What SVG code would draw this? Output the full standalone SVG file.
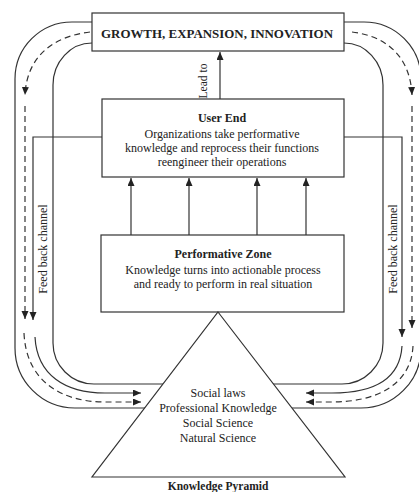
<svg xmlns="http://www.w3.org/2000/svg" width="419" height="492" viewBox="0 0 419 492">
<style>
text{font-family:"Liberation Serif","Times New Roman",serif;fill:#222;text-anchor:middle}
.b{font-weight:bold}
.t{font-size:12px}
.s{font-size:11.5px}
.box{fill:#fff;stroke:#333;stroke-width:1.2}
.ln{fill:none;stroke:#333;stroke-width:1.2}
.ds{fill:none;stroke:#333;stroke-width:1.2;stroke-dasharray:6 4}
</style>
<defs>
<marker id="ah" markerUnits="userSpaceOnUse" markerWidth="9" markerHeight="8" refX="8" refY="3.5" orient="auto">
<path d="M0,0 L8,3.5 L0,7 z" fill="#222"/>
</marker>
</defs>
<rect width="419" height="492" fill="#fff"/>
<g id="connectors">
<!-- left side -->
<path class="ln" d="M92,22 H72 A57,57 0 0 0 15,79 V348 A60,60 0 0 0 75,408 H146"/>
<path class="ln" d="M92,43 A39,42 0 0 0 53,85 V343 A41,41 0 0 0 94,384 H163"/>
<path class="ds" d="M90,32 C55,36 27,55 25,95" marker-end="url(#ah)"/>
<path class="ds" d="M25,106 V319" marker-end="url(#ah)"/>
<path class="ln" d="M102,137 H33 V320" marker-end="url(#ah)"/>
<path class="ds" d="M24,333 C26,380 60,402 105,402 H141" marker-end="url(#ah)"/>
<path class="ln" d="M35,337 C37,375 65,393 105,393 H141" marker-end="url(#ah)"/>
<!-- right side -->
<path class="ln" d="M344,22 H364 A57,57 0 0 1 421,79 V348 A60,60 0 0 1 361,408 H292"/>
<path class="ln" d="M344,43 A39,42 0 0 1 383,85 V343 A41,41 0 0 1 342,384 H273"/>
<path class="ds" d="M352,32 C385,36 410,55 412,95" marker-end="url(#ah)"/>
<path class="ds" d="M412,106 V328" marker-end="url(#ah)"/>
<path class="ln" d="M344,137 H402 V337" marker-end="url(#ah)"/>
<path class="ds" d="M413,346 C411,385 376,402 332,402 H306" marker-end="url(#ah)"/>
<path class="ln" d="M402,346 C400,380 372,393 332,393 H306" marker-end="url(#ah)"/>
<!-- center -->
<path class="ln" d="M220,99 V52" marker-end="url(#ah)"/>
<path class="ln" d="M131,235 V178" marker-end="url(#ah)"/>
<path class="ln" d="M189,235 V178" marker-end="url(#ah)"/>
<path class="ln" d="M257,235 V178" marker-end="url(#ah)"/>
<path class="ln" d="M306,235 V178" marker-end="url(#ah)"/>
</g>
<g id="growth">
<rect class="box" x="92" y="13" width="252" height="38"/>
<text class="b t" x="217" y="38" textLength="232" lengthAdjust="spacingAndGlyphs">GROWTH, EXPANSION, INNOVATION</text>
</g>
<g id="lead-to-label">
<text class="s" transform="translate(203,81) rotate(-90)" x="0" y="4">Lead to</text>
</g>
<g id="user-end">
<rect class="box" x="102" y="99" width="242" height="78"/>
<text class="b t" x="222" y="122">User End</text>
<text class="t" x="222" y="138">Organizations take performative</text>
<text class="t" x="222" y="152">knowledge and reprocess their functions</text>
<text class="t" x="222" y="166">reengineer their operations</text>
</g>
<g id="performative-zone">
<rect class="box" x="101" y="235" width="243" height="77"/>
<text class="b t" x="223" y="258">Performative Zone</text>
<text class="t" x="223" y="274">Knowledge turns into actionable process</text>
<text class="t" x="223" y="288">and ready to perform in real situation</text>
</g>
<g id="knowledge-pyramid">
<path class="box" d="M218,312 L345,477 L92,477 Z"/>
<text class="t" x="218" y="397">Social laws</text>
<text class="t" x="218" y="412">Professional Knowledge</text>
<text class="t" x="218" y="427">Social Science</text>
<text class="t" x="218" y="442">Natural Science</text>
<text class="b s" x="218" y="490">Knowledge Pyramid</text>
</g>
<g id="feedback-labels">
<text class="t" transform="translate(43,249) rotate(-90)" x="0" y="4">Feed back channel</text>
<text class="t" transform="translate(393,249) rotate(-90)" x="0" y="4">Feed back channel</text>
</g>
</svg>
